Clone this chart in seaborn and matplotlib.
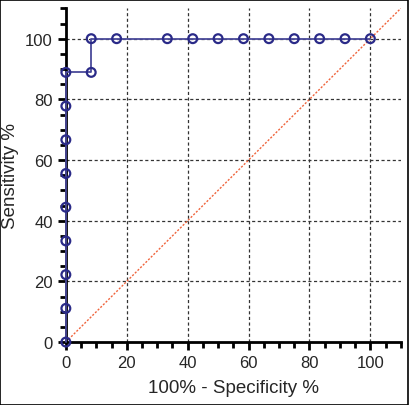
import numpy as np
import matplotlib
matplotlib.use("Agg")
import matplotlib.pyplot as plt
import seaborn as sns
from matplotlib.ticker import MultipleLocator
from matplotlib.patches import Rectangle

# ROC curve points (100% - specificity, sensitivity)
fpr = [0, 0, 0, 0, 0, 0, 0, 0, 0, 8.33, 8.33, 16.67, 33.33, 41.67, 50.0,
       58.33, 66.67, 75.0, 83.33, 91.67, 100.0]
tpr = [0, 11.11, 22.22, 33.33, 44.44, 55.56, 66.67, 77.78, 88.89, 88.89,
       100, 100, 100, 100, 100, 100, 100, 100, 100, 100, 100]
ref_line = [0, 110]

sns.set_style("white")
plt.rcParams['font.family'] = ['Liberation Sans', 'DejaVu Sans']

fig = plt.figure(figsize=(4.09, 4.06), dpi=100)
ax = fig.add_axes([0.161, 0.155, 0.819, 0.822])

# grid
for v in [20, 40, 60, 80, 100]:
    ax.axvline(v, color='#333333', linestyle=(0, (2.5, 2)), linewidth=0.9, zorder=0)
    ax.axhline(v, color='#333333', linestyle=(0, (2.5, 2)), linewidth=0.9, zorder=0)

# reference diagonal
sns.lineplot(x=ref_line, y=ref_line, ax=ax, color='#f0643c', linestyle=(0, (1.5, 1.2)),
             linewidth=1.0, zorder=1)

# ROC
ax.plot(fpr, tpr, color='#4a4a9a', linewidth=1.3, zorder=4, clip_on=False)
sns.scatterplot(x=fpr, y=tpr, ax=ax, marker='o', s=40, facecolor='none',
                edgecolor='#2a2a88', linewidth=1.6, zorder=5, clip_on=False)

ax.set_xlim(0, 110)
ax.set_ylim(0, 110)
ax.xaxis.set_major_locator(MultipleLocator(20))
ax.yaxis.set_major_locator(MultipleLocator(20))
ax.xaxis.set_minor_locator(MultipleLocator(5))
ax.yaxis.set_minor_locator(MultipleLocator(5))
for s in ['top', 'right']:
    ax.spines[s].set_visible(False)
for s in ['left', 'bottom']:
    ax.spines[s].set_linewidth(2)
    ax.spines[s].set_color('black')
    ax.spines[s].set_zorder(3)
ax.tick_params(which='major', direction='out', length=6, width=2, labelsize=12,
               left=True, bottom=True, color='black')
ax.tick_params(which='minor', direction='out', length=4, width=2,
               left=True, bottom=True, color='black')
ax.set_xlabel('100% - Specificity %', fontsize=13.5, labelpad=6)
ax.set_ylabel('Sensitivity %', fontsize=13.5, labelpad=4)

fig.patches.append(Rectangle((0.001, 0.001), 0.997, 0.997, transform=fig.transFigure,
                             fill=False, edgecolor='black', linewidth=1.2))

plt.savefig('out.png', dpi=100)
